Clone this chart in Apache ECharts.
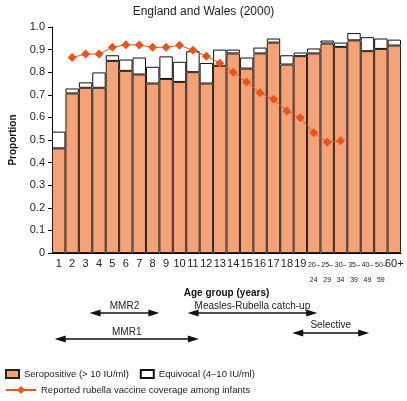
<!DOCTYPE html>
<html>
<head>
<meta charset="utf-8">
<script src="https://cdn.jsdelivr.net/npm/echarts@6/dist/echarts.min.js"></script>
<style>
html,body{margin:0;padding:0;background:#fff;}
#c{width:407px;height:401px;}
</style>
</head>
<body>
<div id="c"></div>
<script>
var categories = ['1','2','3','4','5','6','7','8','9','10','11','12','13','14','15','16','17','18','19','20–24','25–29','30–34','35–39','40–49','50–59','60+'];
var seropositive = [0.463,0.706,0.731,0.731,0.850,0.806,0.790,0.750,0.770,0.757,0.800,0.750,0.828,0.883,0.816,0.883,0.931,0.834,0.871,0.883,0.927,0.912,0.941,0.893,0.903,0.918];
var totalPositive = [0.537,0.728,0.755,0.799,0.875,0.856,0.865,0.824,0.870,0.846,0.893,0.841,0.900,0.900,0.865,0.909,0.949,0.875,0.887,0.905,0.940,0.931,0.973,0.955,0.949,0.944];
var equivocal = totalPositive.map(function(t,i){return +(t - seropositive[i]).toFixed(3);});
var coverage = [null,0.865,0.880,0.880,0.910,0.922,0.920,0.910,0.910,0.919,0.897,0.871,0.840,0.800,0.757,0.709,0.680,0.628,0.598,0.532,0.490,0.497,null,null,null,null];
var yTicks = ['0','0.1','0.2','0.3','0.4','0.5','0.6','0.7','0.8','0.9','1.0'];

var programmes = [
  {name:'MMR2', from:2.8, to:8.0},
  {name:'MMR1', from:0.2, to:10.94},
  {name:'Measles-Rubella catch-up', from:10.1, to:19.76},
  {name:'Selective', from:17.9, to:23.63}
];
var progLayout = [
  {lineY:313, textY:306},
  {lineY:339, textY:332},
  {lineY:313, textY:306},
  {lineY:333, textY:325}
];

var FONT = "'Liberation Sans Narrow','Liberation Sans',sans-serif";
var chart = echarts.init(document.getElementById('c'), null, {renderer:'canvas'});

var sNames = ['Seropositive (> 10 IU/ml)','Equivocal (4–10 IU/ml)','Reported rubella vaccine coverage among infants'];

var option = {
  animation:false,
  textStyle:{fontFamily:FONT},
  title:{text:'England and Wales (2000)', left:'center', top:1, textStyle:{fontFamily:FONT, fontSize:12, fontWeight:'normal', color:'#222'}},
  legend:[
    {data:[{name:sNames[0], icon:'rect'},{name:sNames[1], icon:'rect'}], left:0, top:364, itemWidth:13, itemHeight:8, itemGap:11, textStyle:{fontFamily:FONT, fontSize:9.5, color:'#222'}, selectedMode:false},
    {data:[sNames[2]], left:0, top:380, itemWidth:30, itemHeight:10, itemGap:5, textStyle:{fontFamily:FONT, fontSize:9.5, color:'#222'}, selectedMode:false}
  ],
  grid:{left:49, right:6, top:27, bottom:148, containLabel:false},
  xAxis:{
    type:'category', data:categories,
    name:'Age group (years)', nameLocation:'middle', nameGap:32,
    nameTextStyle:{fontFamily:FONT, fontSize:10, fontWeight:'bold', color:'#111'},
    axisLine:{lineStyle:{color:'#000', width:1}},
    axisTick:{length:4, lineStyle:{color:'#000'}},
    axisLabel:{
      interval:0, margin:5, color:'#222', fontSize:11, fontFamily:FONT,
      formatter:function(v){
        if(v.indexOf('–')>0){var p=v.split('–'); return '{s|'+p[0]+'–}\n{s|'+p[1]+'}';}
        return v;
      },
      rich:{s:{fontSize:7, lineHeight:14.5, fontFamily:FONT, color:'#222'}}
    }
  },
  yAxis:{
    type:'value', min:0, max:1, interval:0.1,
    name:'Proportion', nameLocation:'middle', nameGap:34, nameRotate:90,
    nameTextStyle:{fontFamily:FONT, fontSize:10, fontWeight:'bold', color:'#111'},
    axisLine:{show:true, lineStyle:{color:'#000', width:1}},
    axisTick:{show:true, length:4, lineStyle:{color:'#000'}},
    splitLine:{show:false},
    axisLabel:{margin:7, color:'#222', fontSize:11, fontFamily:FONT,
      formatter:function(v){return yTicks[Math.round(v*10)];}}
  },
  series:[
    {name:sNames[0], type:'bar', stack:'s', data:seropositive, barCategoryGap:'0%',
     itemStyle:{color:'#F4A278', borderColor:'#2e2019', borderWidth:1}},
    {name:sNames[1], type:'bar', stack:'s', data:equivocal, barCategoryGap:'0%',
     itemStyle:{color:'#ffffff', borderColor:'#111', borderWidth:1}},
    {name:sNames[2], type:'line', data:coverage, symbol:'diamond', symbolSize:9,
     lineStyle:{color:'#E8541A', width:1}, itemStyle:{color:'#E8541A'}, z:5}
  ]
};
chart.setOption(option);

function catPx(pos){
  var a = chart.convertToPixel({xAxisIndex:0}, 0);
  var b = chart.convertToPixel({xAxisIndex:0}, 1);
  return a + (pos - 0.5)*(b - a);
}
var els = [];
programmes.forEach(function(p,i){
  var L = progLayout[i];
  var x1 = catPx(p.from), x2 = catPx(p.to);
  var y = L.lineY;
  els.push({type:'line', shape:{x1:x1+6, y1:y, x2:x2-6, y2:y}, style:{stroke:'#111', lineWidth:1.5}});
  els.push({type:'polygon', shape:{points:[[x1,y],[x1+11,y-3.5],[x1+11,y+3.5]]}, style:{fill:'#111'}});
  els.push({type:'polygon', shape:{points:[[x2,y],[x2-11,y-3.5],[x2-11,y+3.5]]}, style:{fill:'#111'}});
  els.push({type:'text', x:(x1+x2)/2, y:L.textY, style:{text:p.name, fontFamily:FONT, fontSize:10, fill:'#222', align:'center', verticalAlign:'middle'}});
});
chart.setOption({graphic:els});
</script>
</body>
</html>
